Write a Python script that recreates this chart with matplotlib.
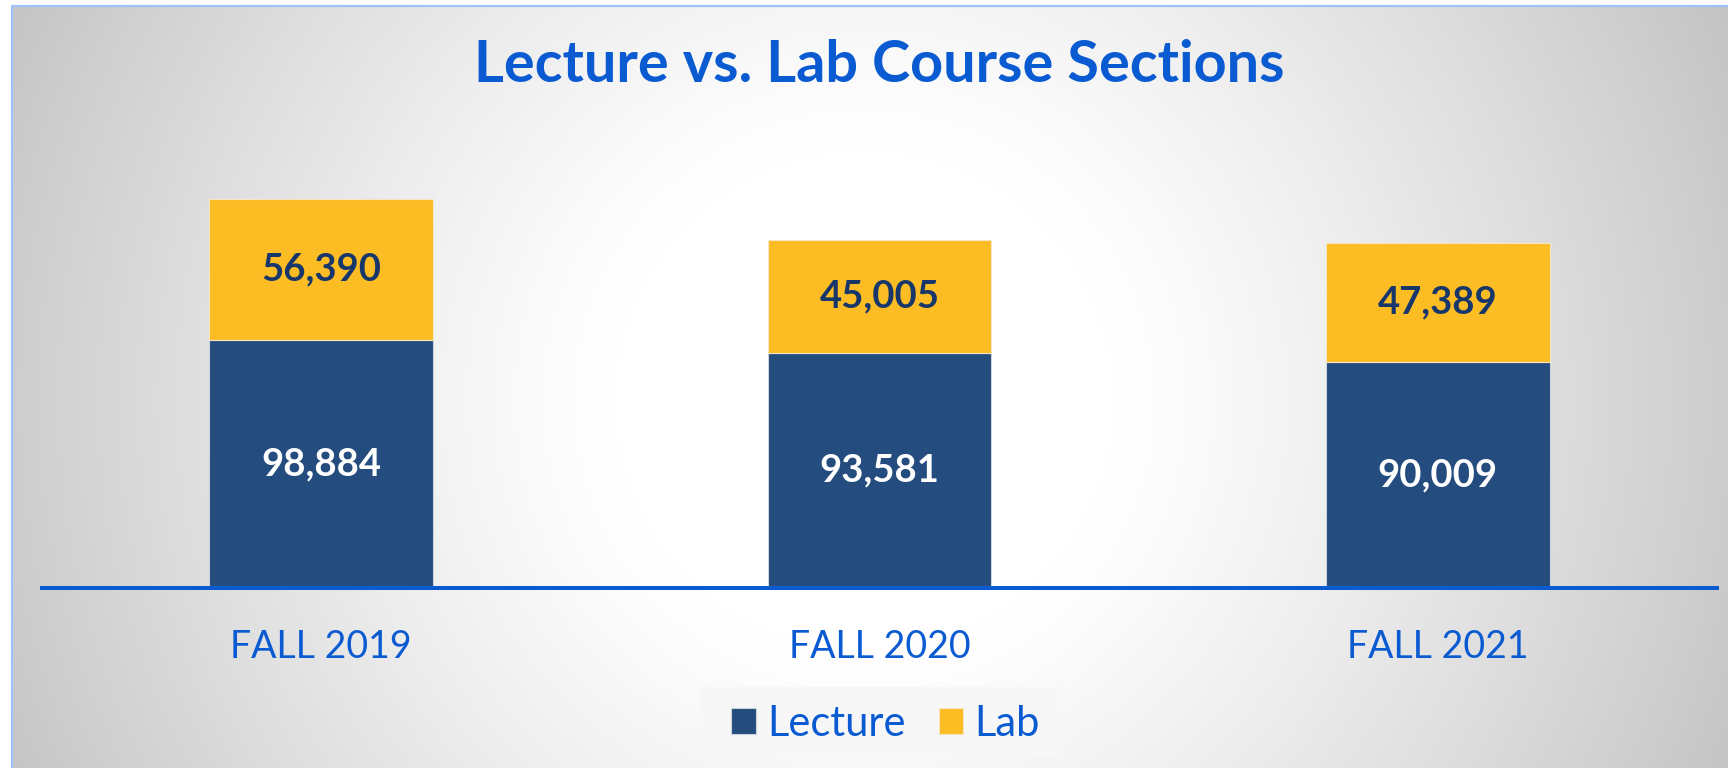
import numpy as np
import matplotlib
matplotlib.use("Agg")
import matplotlib.pyplot as plt
from matplotlib.patches import Rectangle

# ---- data ----
categories = ["FALL 2019", "FALL 2020", "FALL 2021"]
lecture = [98884, 93581, 90009]
lab = [56390, 45005, 47389]

title = "Lecture vs. Lab Course Sections"
FONT = ["Lato", "DejaVu Sans"]
BLUE_TXT = "#0A5AD2"
C_LEC = "#244C7E"
C_LAB = "#FBBC24"
LAB_TXT = "#17366A"

W, H = 1728, 768
fig = plt.figure(figsize=(W / 100, H / 100), dpi=100)
fig.patch.set_facecolor("white")

# background gradient
bg = fig.add_axes([0, 0, 1, 1], zorder=0)
bg.set_xlim(0, W)
bg.set_ylim(H, 0)
bg.axis("off")
yy, xx = np.mgrid[5:H:2, 11:W:2]
d = np.sqrt((xx - 864.0) ** 2 + (yy - 400.0) ** 2)
t = np.clip((d - 250) / 720.0, 0, 1)
g = 1 - 0.24 * t ** 1.2
img = np.dstack([g, g, g])
bg.imshow(img, extent=(11, W, H, 5), aspect="auto", interpolation="bilinear", zorder=0)
bg.plot([11.5, 11.5, W], [H, 5.5, 5.5], color="#9CC3FA", lw=1.6, zorder=1)
# legend box
bg.add_patch(Rectangle((700, 687), 358, 70, facecolor="#F7F7F7", edgecolor="none", zorder=2))

# main axes
ax = fig.add_axes([42 / W, (H - 588) / H, (1717 - 42) / W, (588 - 100) / H], zorder=2)
ax.patch.set_alpha(0)
x = np.arange(len(categories))
bw = 0.4
b1 = ax.bar(x, lecture, bw, color=C_LEC, edgecolor="#c9d3e0", linewidth=0.8, label="Lecture", zorder=2)
b2 = ax.bar(x, lab, bw, bottom=lecture, color=C_LAB, edgecolor="#f6e6bf", linewidth=0.8, label="Lab", zorder=2)
ax.set_xlim(-0.5, 2.5)
ax.set_ylim(0, 194600)

for i in range(len(categories)):
    ax.text(x[i], lecture[i] / 2, f"{lecture[i]:,}", ha="center", va="center",
            color="white", fontsize=27.5, fontweight="bold", family=FONT, zorder=3)
    ax.text(x[i], lecture[i] + lab[i] / 2, f"{lab[i]:,}", ha="center", va="center",
            color=LAB_TXT, fontsize=27.5, fontweight="bold", family=FONT, zorder=3)

for s in ["top", "right", "left"]:
    ax.spines[s].set_visible(False)
ax.spines["bottom"].set_color(BLUE_TXT)
ax.spines["bottom"].set_linewidth(2.9)
ax.spines["bottom"].set_zorder(4)
ax.set_yticks([])
ax.set_xticks(x)
ax.set_xticklabels(categories, fontsize=27, color=BLUE_TXT, family=FONT)
ax.tick_params(axis="x", length=0, pad=29.5)

fig.text(879 / W, 1 - 65 / H, title, ha="center", va="center", fontsize=41.5,
         fontweight="bold", color=BLUE_TXT, family=FONT)

leg = fig.legend(handles=[b1, b2], labels=["Lecture", "Lab"], loc="center",
                 bbox_to_anchor=(885.5 / W, 1 - 724 / H), ncol=2, frameon=False,
                 prop={"family": FONT, "size": 30},
                 handlelength=0.58, handleheight=0.58, handletextpad=0.27,
                 columnspacing=0.8, borderpad=0.2)
for txt in leg.get_texts():
    txt.set_color(BLUE_TXT)

fig.savefig("out.png", dpi=100)
